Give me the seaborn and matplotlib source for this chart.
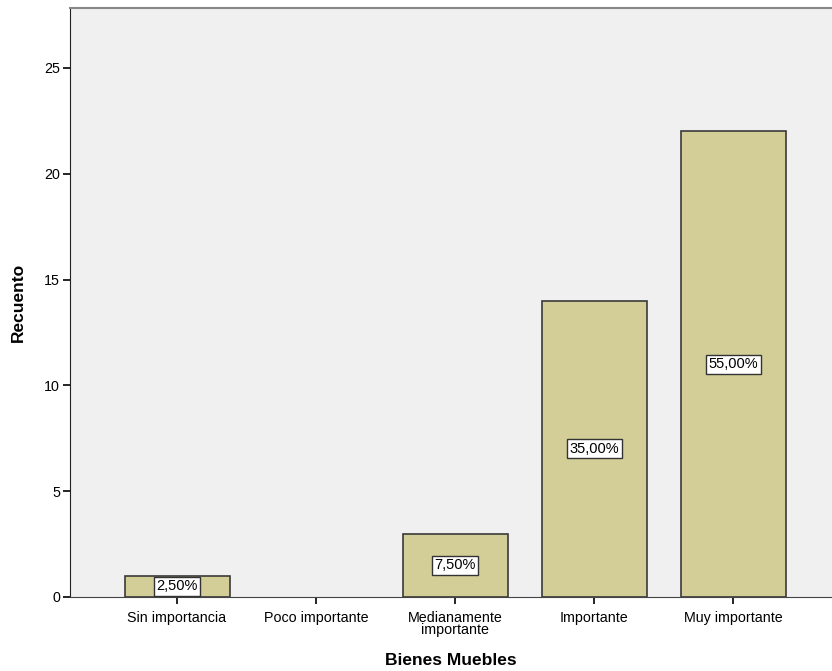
import matplotlib
matplotlib.use("Agg")
import matplotlib.pyplot as plt
import seaborn as sns
import pandas as pd

# ── Data ──────────────────────────────────────────────────────────────────────
categories = ["Sin importancia", "Poco importante", "Medianamente\nimportante",
              "Importante", "Muy importante"]
counts = [1, 0, 3, 14, 22]
pct_labels = ["2,50%", None, "7,50%", "35,00%", "55,00%"]

df = pd.DataFrame({"categoria": categories, "recuento": counts})

# ── Chart ─────────────────────────────────────────────────────────────────────
sns.set_style("white")
plt.rcParams["font.family"] = ["Liberation Sans", "DejaVu Sans"]
plt.rcParams["text.color"] = "black"
plt.rcParams["axes.labelcolor"] = "black"
plt.rcParams["xtick.color"] = "black"
plt.rcParams["ytick.color"] = "black"

fig = plt.figure(figsize=(8.32, 6.71), dpi=100)
ax = fig.add_axes([0.0841, 0.1103, 0.9159, 0.8777])
ax.set_facecolor("#F0F0F0")

sns.barplot(data=df, x="categoria", y="recuento", color="#D3CE97",
            saturation=1, width=0.755, edgecolor="#3a3a3a", linewidth=1.2, ax=ax)

# empty categories get no outline
for patch, c in zip(ax.patches, counts):
    if c == 0:
        patch.set_linewidth(0)

for i, (c, lab) in enumerate(zip(counts, pct_labels)):
    if lab is None:
        continue
    ax.text(i, c / 2, lab, ha="center", va="center", fontsize=10.5,
            bbox=dict(boxstyle="square,pad=0.18", facecolor="white",
                      edgecolor="#333333", linewidth=1))

ax.set_xlim(-0.77, 4.71)
ax.set_ylim(0, 27.83)
ax.set_yticks([0, 5, 10, 15, 20, 25])
ax.tick_params(axis="both", direction="out", length=5, width=1.2,
               color="black", labelsize=10.3, pad=2, left=True, bottom=True)
ax.tick_params(axis="x", pad=5)
for lab in ax.get_xticklabels():
    lab.set_linespacing(0.85)
    lab.set_verticalalignment("top")

ax.spines["left"].set_color("#222222")
ax.spines["bottom"].set_color("#444444")
ax.spines["top"].set_color("#888888")
ax.spines["top"].set_linewidth(1.5)
ax.spines["right"].set_visible(False)

ax.set_xlabel("Bienes Muebles", fontsize=12.5, fontweight="bold", labelpad=11)
ax.set_ylabel("Recuento", fontsize=12.5, fontweight="bold", labelpad=13)

plt.savefig("out.png", dpi=100)
plt.close()
